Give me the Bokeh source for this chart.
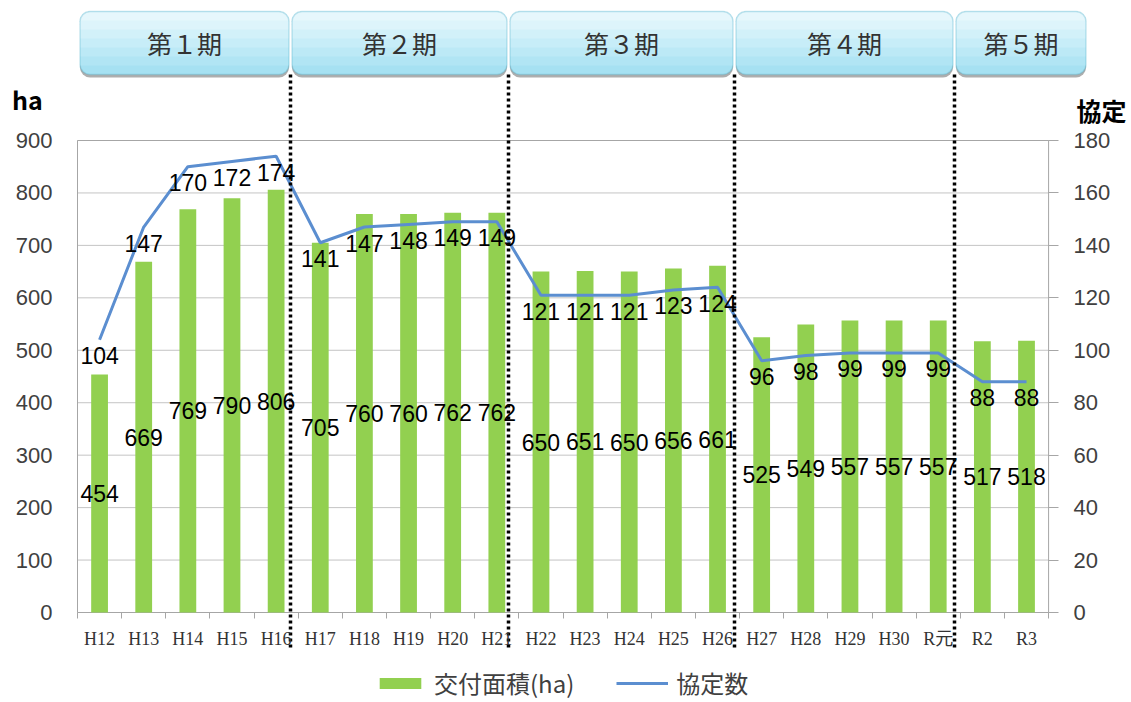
from bokeh.plotting import figure
from bokeh.models import (Range1d, LinearAxis, FixedTicker, ColumnDataSource, Label,
                          BoxAnnotation, Legend, LegendItem)
from bokeh.embed import file_html
from bokeh.resources import INLINE
from bokeh.core.properties import value

# ---------------- data ----------------
categories = ["H12", "H13", "H14", "H15", "H16", "H17", "H18", "H19", "H20", "H21", "H22",
              "H23", "H24", "H25", "H26", "H27", "H28", "H29", "H30", "R元", "R2", "R3"]
area_ha = [454, 669, 769, 790, 806, 705, 760, 760, 762, 762, 650,
           651, 650, 656, 661, 525, 549, 557, 557, 557, 517, 518]
agreements = [104, 147, 170, 172, 174, 141, 147, 148, 149, 149, 121,
              121, 121, 123, 124, 96, 98, 99, 99, 99, 88, 88]
periods = ["第１期", "第２期", "第３期", "第４期", "第５期"]
left_ticks = [0, 100, 200, 300, 400, 500, 600, 700, 800, 900]
right_ticks = [0, 20, 40, 60, 80, 100, 120, 140, 160, 180]
legend_labels = ["交付面積(ha)", "協定数"]

# ---------------- layout (pixels of the canvas) ----------------
FW, FH = 1130, 701                 # canvas = frame
BOX_LEFT, ZERO_Y, TOP_Y = 77, 612, 140
N = len(categories)
CAT_W = 44.14                      # pixels per category
K = (ZERO_Y - TOP_Y) / left_ticks[-1]   # pixels per ha
RATIO = left_ticks[-1] / right_ticks[-1]

X_START = -0.5 - BOX_LEFT / CAT_W
X_END = X_START + FW / CAT_W
Y_START = (ZERO_Y - FH) / K
Y_END = ZERO_Y / K


def px_x(sx):
    return X_START + sx / CAT_W


def px_y(sy):
    return (ZERO_Y - sy) / K


period_breaks = [px_x(s) for s in (290, 508, 734, 954)]
banner_edges = [px_x(s) for s in (78, 290, 508, 734, 954, 1087)]
BANNER_TOP_PX, BANNER_BOTTOM_PX = 11, 74
BANNER_TOP = px_y(BANNER_TOP_PX)
BANNER_BOTTOM = px_y(BANNER_BOTTOM_PX)
banner_shades = ["#A6E1F2", "#B1E5F4", "#BCE9F6", "#C7EDF8", "#D2F1F9", "#DDF4FB", "#E6F7FC"]

GREEN = "#92D050"
BLUE = "#5B8ED0"
GRID = "#C4C4C4"
AXIS = "#A6A6A6"
TXT = "#404040"

x = list(range(N))
src = ColumnDataSource(dict(
    x=x,
    area=area_ha,
    area_mid=[a / 2 for a in area_ha],
    area_txt=[str(a) for a in area_ha],
    agree=agreements,
    agree_txt=[str(a) for a in agreements],
))

p = figure(width=FW, height=FH,
           min_border_left=0, min_border_right=0, min_border_top=0, min_border_bottom=0,
           x_range=Range1d(X_START, X_END), y_range=Range1d(Y_START, Y_END),
           output_backend="svg", toolbar_location=None)
p.outline_line_color = None
p.background_fill_color = "white"
p.grid.visible = False

# left axis (drawn at the box's left edge)
la = p.yaxis[0]
la.fixed_location = -0.5
la.ticker = FixedTicker(ticks=left_ticks)
la.axis_line_color = None
la.major_tick_out = 0
la.major_tick_in = 0
la.minor_tick_line_color = None
la.major_label_standoff = 25
la.major_label_text_font = "Liberation Sans"
la.major_label_text_font_size = "22px"
la.major_label_text_color = TXT

# right axis
p.extra_y_ranges = {"right": Range1d(Y_START / RATIO, Y_END / RATIO)}
ra = LinearAxis(y_range_name="right", ticker=FixedTicker(ticks=right_ticks))
ra.fixed_location = N - 0.5
ra.axis_line_color = None
ra.major_tick_out = 10
ra.major_tick_in = 0
ra.major_tick_line_color = AXIS
ra.minor_tick_line_color = None
ra.major_label_standoff = 15
ra.major_label_text_font = "Liberation Sans"
ra.major_label_text_font_size = "22px"
ra.major_label_text_color = TXT
p.add_layout(ra, "right")

# x axis
xa = p.xaxis[0]
xa.ticker = FixedTicker(ticks=x, minor_ticks=[i - 0.5 for i in range(N + 1)])
xa.major_label_overrides = {i: c for i, c in enumerate(categories)}
xa.fixed_location = 0
xa.axis_line_color = None
xa.major_tick_out = 0
xa.major_tick_in = 0
xa.minor_tick_out = 6
xa.minor_tick_in = 0
xa.minor_tick_line_color = AXIS
xa.major_label_standoff = 10
xa.major_label_text_font = "Liberation Serif, Noto Sans CJK JP"
xa.major_label_text_font_size = "18px"
xa.major_label_text_color = "#333333"

# horizontal gridlines inside the plot box
p.segment(x0=[-0.5] * len(left_ticks), y0=left_ticks, x1=[N - 0.5] * len(left_ticks),
          y1=left_ticks, line_color=GRID, line_width=1)
# plot box
p.quad(left=-0.5, right=N - 0.5, bottom=left_ticks[0], top=left_ticks[-1],
       fill_color=None, line_color=AXIS, line_width=1)

# bars and line
bars = p.vbar(x="x", top="area", width=0.38, source=src, fill_color=GREEN, line_color=None)
line = p.line(x="x", y="agree", source=src, y_range_name="right", line_color=BLUE, line_width=3)

# data labels
p.text(x="x", y="area_mid", text="area_txt", source=src, text_align="center",
       text_baseline="middle", text_font=value("Liberation Sans"), text_font_size="23px",
       text_color="black")
p.text(x="x", y="agree", text="agree_txt", source=src, y_range_name="right", y_offset=16,
       text_align="center", text_baseline="middle", text_font=value("Liberation Sans"),
       text_font_size="23px", text_color="black")

# period dotted lines
nb = len(period_breaks)
p.segment(x0=period_breaks, y0=[px_y(647)] * nb, x1=period_breaks, y1=[BANNER_BOTTOM] * nb,
          line_color="black", line_width=3.5, line_dash="3 3")

# period banners (rounded boxes with a vertical gradient and a soft shadow)
SHADOW = 3 / K
GAP = 1.5 / CAT_W
R = 10
ns = len(banner_shades)
for i, name in enumerate(periods):
    l = banner_edges[i] + GAP
    r = banner_edges[i + 1] - GAP
    p.add_layout(BoxAnnotation(left=l, right=r, bottom=BANNER_BOTTOM - SHADOW, top=BANNER_TOP - SHADOW,
                               fill_color="#8C8C8C", fill_alpha=0.7, line_color=None, border_radius=R))
    p.add_layout(BoxAnnotation(left=l, right=r, bottom=BANNER_BOTTOM, top=BANNER_TOP,
                               fill_color=banner_shades[0], fill_alpha=1.0, line_color=None,
                               border_radius=R))
    for j in range(1, ns):
        bottom_px = BANNER_TOP_PX + (BANNER_BOTTOM_PX - BANNER_TOP_PX) * (ns - j) / ns
        p.add_layout(BoxAnnotation(left=l, right=r, bottom=px_y(bottom_px), top=BANNER_TOP,
                                   fill_color=banner_shades[j], fill_alpha=1.0, line_color=None,
                                   border_radius=(R, R, 0, 0)))
    p.add_layout(BoxAnnotation(left=l, right=r, bottom=BANNER_BOTTOM, top=BANNER_TOP,
                               fill_alpha=0, line_color="#4BACC6", line_width=1.5,
                               border_radius=R))
    p.add_layout(Label(x=(l + r) / 2, y=(BANNER_TOP + BANNER_BOTTOM) / 2, text=name,
                       text_align="center", text_baseline="middle",
                       text_font="Noto Sans CJK JP", text_font_size="25px", text_color="#333333"))

# axis unit labels
p.add_layout(Label(x=px_x(27), y=px_y(98), text="ha", text_align="center",
                   text_baseline="middle", text_font="Noto Sans CJK JP", text_font_style="bold",
                   text_font_size="25px", text_color="black"))
p.add_layout(Label(x=px_x(1101), y=px_y(109), text="協定", text_align="center",
                   text_baseline="middle", text_font="Noto Sans CJK JP", text_font_style="bold",
                   text_font_size="25px", text_color="black"))

# legend
legend = Legend(items=[LegendItem(label=legend_labels[0], renderers=[bars]),
                       LegendItem(label=legend_labels[1], renderers=[line])],
                orientation="horizontal", location=(374, 1), border_line_color=None,
                background_fill_alpha=0, glyph_width=52, glyph_height=14,
                label_text_font="Noto Sans CJK JP", label_text_font_size="24px",
                label_text_color=TXT, spacing=42, label_standoff=8, padding=0, margin=0)
p.add_layout(legend, "center")

open("out.html", "w").write(file_html(p, INLINE))
